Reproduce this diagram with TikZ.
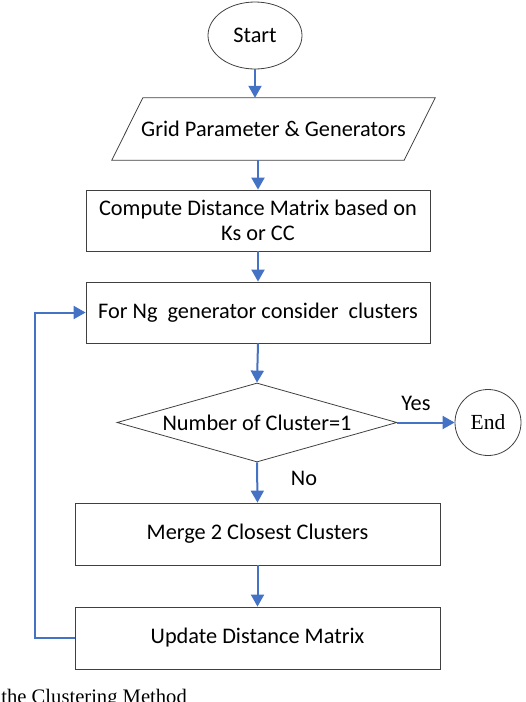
\documentclass[tikz,border=0pt]{standalone}
\usepackage{fontspec}
\setmainfont{Carlito}
\newfontfamily\serifont{Liberation Serif}
\usetikzlibrary{shapes.geometric,arrows.meta,calc}
\definecolor{flowblue}{HTML}{4472C4}
\definecolor{edgegray}{HTML}{404040}
\tikzset{
  every node/.style={font=\fontsize{22.3}{25}\selectfont},
  procbox/.style={draw=edgegray, line width=0.8pt, rectangle, inner sep=0pt, align=center},
  flow/.style={draw=flowblue, line width=2pt, -{Triangle[length=12pt,width=13pt]}},
}
\begin{document}
\begin{tikzpicture}[x=1pt,y=-1pt]
\useasboundingbox (0,0) rectangle (526,702);
\node[ellipse, draw=edgegray, line width=0.8pt, minimum width=94pt, minimum height=67pt, inner sep=0pt] (start) at (255,35.5) {Start};
\node[minimum width=292pt, minimum height=62pt, inner sep=0pt] (grid) at (273.5,129) {Grid Parameter \& Generators};
\draw[edgegray, line width=0.8pt] ($(grid.south west)+(-15.5,0)$) -- ($(grid.north west)+(15.5,0)$) -- ($(grid.north east)+(15.5,0)$) -- ($(grid.south east)+(-15.5,0)$) -- cycle;
\node[procbox, minimum width=344pt, minimum height=61pt] (compute) at (258,220.5) {Compute Distance Matrix based on\\Ks or CC};
\node[procbox, minimum width=344pt, minimum height=61pt] (forng) at (258,312.5) {For Ng~ generator consider~ clusters};
\node[diamond, draw=edgegray, line width=0.8pt, aspect=3.54, minimum width=280pt, minimum height=79pt, inner sep=0pt] (cond) at (257,422.5) {Number of Cluster=1};
\node[circle, draw=edgegray, line width=0.8pt, minimum size=66pt, inner sep=0pt, font=\serifont\fontsize{21.5}{25}\selectfont] (end) at (488,422.5) {End};
\node[procbox, minimum width=365pt, minimum height=62pt] (merge) at (257.5,534) {Merge 2 Closest Clusters};
\node[procbox, minimum width=365pt, minimum height=62pt] (update) at (257.5,638) {Update Distance Matrix};
\node (yes) at (416,403) {Yes};
\node (no) at (304,478) {No};
\node[anchor=base east, font=\serifont\fontsize{20.6}{25}\selectfont, inner sep=0pt] (caption) at (187,703.6) {the Clustering Method};
\draw[flow] (start.south) -- (start.south |- grid.north);
\draw[flow] (compute.north |- grid.south) -- (compute.north);
\draw[flow] (compute.south) -- (forng.north);
\draw[flow] (forng.south) -- (cond.north);
\draw[flow] (cond.east) -- (end.west);
\draw[flow] (cond.south) -- (merge.north);
\draw[flow] (merge.south) -- (update.north);
\draw[flow] (update.west) -- ++(-40,0) |- (forng.west);
\end{tikzpicture}
\end{document}
